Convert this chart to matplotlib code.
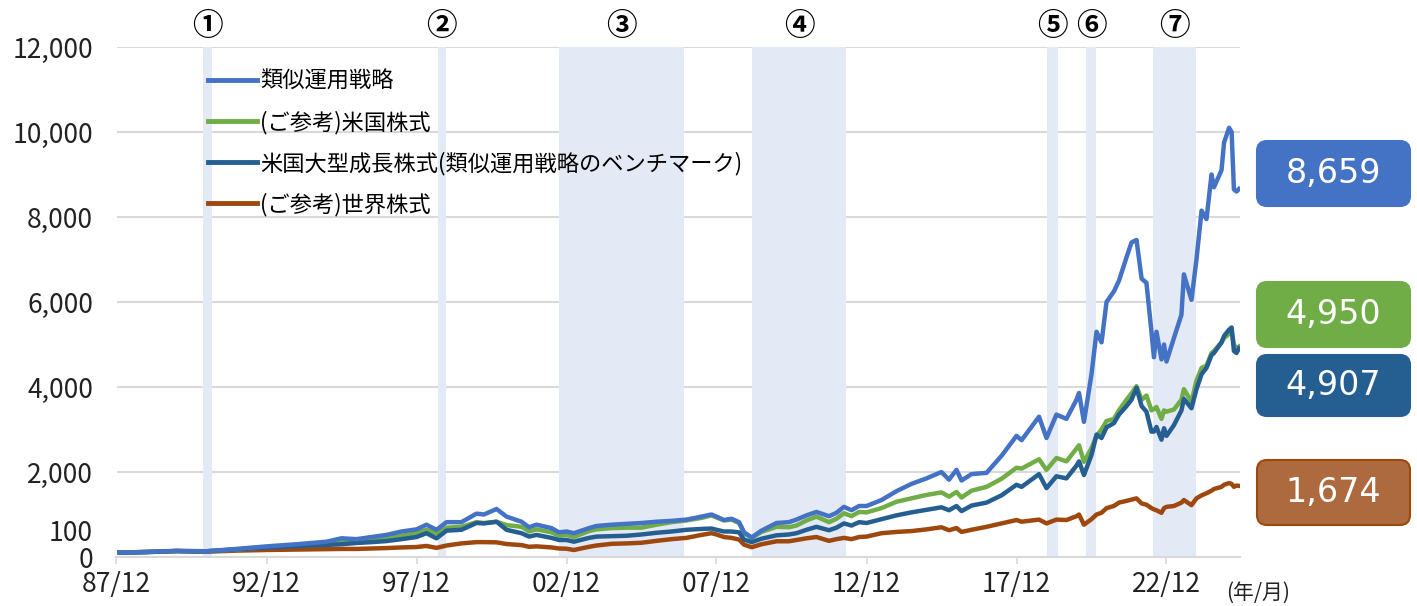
import matplotlib.pyplot as plt
from matplotlib.patches import FancyBboxPatch
from matplotlib.lines import Line2D
import pandas as pd

plt.rcParams['font.family'] = ['Noto Sans CJK JP', 'DejaVu Sans']

# month-end values (start = 100)
months = [
    "1987-12", "1988-12", "1989-12", "1990-08", "1990-12", "1991-12", "1992-12", "1993-12",
    "1994-12", "1995-06", "1995-12", "1996-06", "1996-12", "1997-06", "1997-12", "1998-04",
    "1998-08", "1998-12", "1999-06", "1999-12", "2000-03", "2000-08", "2000-12", "2001-06",
    "2001-09", "2001-12", "2002-06", "2002-09", "2002-12", "2003-03", "2003-09", "2003-12",
    "2004-06", "2004-12", "2005-06", "2005-12", "2006-06", "2006-12", "2007-06", "2007-10",
    "2007-12", "2008-03", "2008-06", "2008-09", "2008-11", "2009-02", "2009-06", "2009-12",
    "2010-05", "2010-08", "2010-12", "2011-04", "2011-09", "2011-12", "2012-03", "2012-06",
    "2012-09", "2012-12", "2013-06", "2013-12", "2014-06", "2014-12", "2015-06", "2015-09",
    "2015-12", "2016-02", "2016-06", "2016-12", "2017-06", "2017-12", "2018-02", "2018-09",
    "2018-12", "2019-04", "2019-08", "2019-12", "2020-01", "2020-03", "2020-06", "2020-08",
    "2020-10", "2020-12", "2021-03", "2021-05", "2021-08", "2021-10", "2021-12", "2022-02",
    "2022-04", "2022-06", "2022-07", "2022-08", "2022-10", "2022-11", "2022-12", "2023-03",
    "2023-06", "2023-07", "2023-10", "2023-12", "2024-02", "2024-04", "2024-06", "2024-07",
    "2024-10", "2024-11", "2025-01", "2025-02", "2025-03", "2025-04", "2025-05",
]
strategy = [
    100, 120, 140, 140, 135, 190, 250, 300,
    360, 440, 420, 470, 520, 600, 650, 760,
    640, 820, 820, 1020, 1000, 1130, 950, 830,
    700, 760, 680, 580, 600, 560, 680, 730,
    760, 780, 800, 830, 850, 880, 950, 1000,
    950, 870, 900, 820, 580, 460, 620, 800,
    820, 880, 980, 1060, 960, 1040, 1180, 1100,
    1200, 1200, 1340, 1550, 1720, 1850, 2000, 1820,
    2050, 1800, 1950, 1980, 2380, 2850, 2750, 3300,
    2800, 3350, 3250, 3700, 3860, 3180, 4300, 5300,
    5050, 6000, 6250, 6500, 7050, 7400, 7460, 6550,
    6450, 5300, 4700, 5300, 4650, 5000, 4600, 5150,
    5700, 6650, 6050, 7000, 8150, 7950, 9000, 8700,
    9100, 9750, 10100, 10000, 8650, 8600, 8659,
]
us_stock = [
    100, 115, 140, 135, 135, 175, 230, 270,
    310, 350, 375, 400, 440, 500, 560, 640,
    560, 690, 710, 820, 800, 830, 750, 710,
    600, 650, 580, 500, 520, 470, 610, 650,
    680, 690, 690, 760, 820, 860, 920, 980,
    930, 860, 880, 800, 560, 450, 590, 710,
    700, 740, 860, 950, 820, 900, 1030, 960,
    1060, 1050, 1150, 1300, 1380, 1460, 1520, 1420,
    1530, 1400, 1560, 1650, 1840, 2100, 2080, 2300,
    2050, 2330, 2250, 2550, 2630, 2240, 2560, 2850,
    3000, 3200, 3250, 3450, 3700, 3850, 4020, 3700,
    3800, 3450, 3480, 3530, 3250, 3450, 3420, 3470,
    3700, 3950, 3650, 4150, 4450, 4500, 4800, 4850,
    5050, 5150, 5250, 5300, 5000, 4900, 4950,
]
us_growth = [
    100, 115, 140, 135, 135, 180, 220, 255,
    285, 300, 330, 350, 375, 420, 470, 560,
    440, 620, 640, 800, 790, 830, 640, 560,
    480, 520, 450, 400, 400, 360, 450, 480,
    490, 500, 530, 570, 600, 640, 660, 670,
    640, 600, 600, 580, 410, 350, 430, 510,
    530, 560, 640, 710, 630, 690, 790, 740,
    820, 800, 890, 980, 1050, 1110, 1170, 1100,
    1200, 1080, 1210, 1280, 1450, 1700, 1650, 1950,
    1620, 1900, 1850, 2150, 2250, 1930, 2400, 2880,
    2800, 3050, 3150, 3350, 3550, 3700, 3980, 3550,
    3420, 2950, 2950, 3060, 2760, 3030, 2850, 3100,
    3450, 3720, 3500, 3950, 4300, 4450, 4750, 4800,
    5050, 5200, 5350, 5400, 4850, 4800, 4907,
]
world_stock = [
    100, 120, 145, 125, 125, 150, 165, 175,
    185, 190, 190, 200, 210, 225, 235, 260,
    215, 270, 320, 350, 350, 345, 305, 280,
    240, 250, 225, 200, 195, 165, 240, 270,
    310, 320, 335, 380, 420, 450, 520, 560,
    530, 470, 450, 410, 290, 230, 300, 370,
    370, 400, 440, 470, 380, 420, 450, 420,
    470, 480, 560, 590, 610, 650, 700, 630,
    680, 590, 640, 710, 790, 870, 830, 880,
    790, 880, 870, 960, 1000, 760, 890, 1000,
    1040, 1150, 1200, 1280, 1320, 1350, 1380, 1260,
    1230, 1150, 1120, 1100, 1040, 1150, 1180, 1200,
    1280, 1340, 1220, 1380, 1450, 1500, 1560, 1600,
    1650, 1700, 1740, 1720, 1650, 1680, 1674,
]

series_names = ["類似運用戦略", "(ご参考)米国株式",
                "米国大型成長株式(類似運用戦略のベンチマーク)", "(ご参考)世界株式"]
series_colors = ["#4472C4", "#70AD47", "#255E91", "#9E480E"]
final_labels = ["8,659", "4,950", "4,907", "1,674"]

period_marks = ["①", "②", "③", "④", "⑤", "⑥", "⑦"]
period_starts = ["1990-10-15", "1998-08-15", "2002-09-01", "2009-02-05", "2018-12-10", "2020-03-25", "2022-06-20"]
period_ends = ["1991-02-05", "1998-11-25", "2006-11-01", "2012-03-25", "2019-04-20", "2020-07-25", "2023-12-01"]

y_ticks = [0, 2000, 4000, 6000, 8000, 10000, 12000]
y_tick_labels = ["0", "2,000", "4,000", "6,000", "8,000", "10,000", "12,000"]
x_tick_months = ["1987-12", "1992-12", "1997-12", "2002-12", "2007-12", "2012-12", "2017-12", "2022-12"]
x_tick_labels = ["87/12", "92/12", "97/12", "02/12", "07/12", "12/12", "17/12", "22/12"]

dates = pd.to_datetime(months)

fig = plt.figure(figsize=(14.17, 6.06), dpi=100)
ax = fig.add_axes([116.5 / 1417, 1 - 557 / 606, (1240 - 116.5) / 1417, 510 / 606])

# shaded periods with circled numbers above
for mark, s, e in zip(period_marks, period_starts, period_ends):
    s, e = pd.Timestamp(s), pd.Timestamp(e)
    ax.axvspan(s, e, color="#E3E9F5", lw=0, zorder=1)
    ax.annotate(mark, xy=(s + (e - s) / 2, 12000), xytext=(0, 15), textcoords="offset points",
                ha="center", va="center", fontsize=22, fontweight="bold", annotation_clip=False)

values = [strategy, us_stock, us_growth, world_stock]
draw_order = [3, 1, 2, 0]
for i in draw_order:
    ax.plot(dates, values[i], color=series_colors[i], lw=3.2, zorder=3 + (i == 0),
            solid_joinstyle="round")

ax.set_ylim(0, 12000)
ax.set_xlim(pd.Timestamp("1987-12-01"), pd.Timestamp("2025-05-14"))
ax.set_yticks(y_ticks, y_tick_labels)
ax.set_xticks(pd.to_datetime(x_tick_months), x_tick_labels)
ax.yaxis.grid(True, color="#D9D9D9", lw=1.5, zorder=0)
ax.set_axisbelow(True)
for side in ["top", "right", "left"]:
    ax.spines[side].set_visible(False)
ax.spines["bottom"].set_color("#D9D9D9")
ax.spines["bottom"].set_linewidth(1.5)
ax.tick_params(axis="y", length=0, pad=17, labelsize=19, labelcolor="#222222")
ax.tick_params(axis="x", length=5, width=1.2, color="#D9D9D9", pad=5, labelsize=19, labelcolor="#222222")
ax.annotate("100", xy=(0, 100), xycoords=("axes fraction", "data"), xytext=(-17, 14),
            textcoords="offset points", ha="right", va="center", fontsize=19, color="#222222")
ax.annotate("(年/月)", xy=(1, 0), xycoords="axes fraction", xytext=(13, -26),
            textcoords="offset points", ha="center", va="center", fontsize=15, color="#222222",
            annotation_clip=False)

handles = [Line2D([], [], color=c, lw=3.5) for c in series_colors]
ax.legend(handles, series_names, loc="upper left", bbox_to_anchor=(208 / 1417, 1 - 70 / 606),
          bbox_transform=fig.transFigure, frameon=False, fontsize=16, handlelength=2.2,
          handletextpad=0.15, labelspacing=0.78, borderpad=0, borderaxespad=0)

# value boxes on the right (pixel layout: y top, y bottom)
box_rows = [(141, 206), (282, 347), (355, 416), (460, 525)]
box_faces = ["#4472C4", "#70AD47", "#255E91", "#AE6A3F"]
box_edges = ["#4472C4", "#70AD47", "#255E91", "#9E480E"]
for (top, bot), fc, ec, lab in zip(box_rows, box_faces, box_edges, final_labels):
    x0, w = 12.57, 1.53
    y0, h = (606 - bot) / 100, (bot - top) / 100
    fig.add_artist(FancyBboxPatch((x0, y0), w, h, boxstyle="round,pad=0,rounding_size=0.1",
                                  transform=fig.dpi_scale_trans, fc=fc, ec=ec, lw=1.5))
    fig.text(x0 + w / 2, y0 + h / 2, lab, transform=fig.dpi_scale_trans, ha="center",
             va="center", color="white", fontsize=24, family=["DejaVu Sans"])

fig.savefig("out.png", dpi=100)
